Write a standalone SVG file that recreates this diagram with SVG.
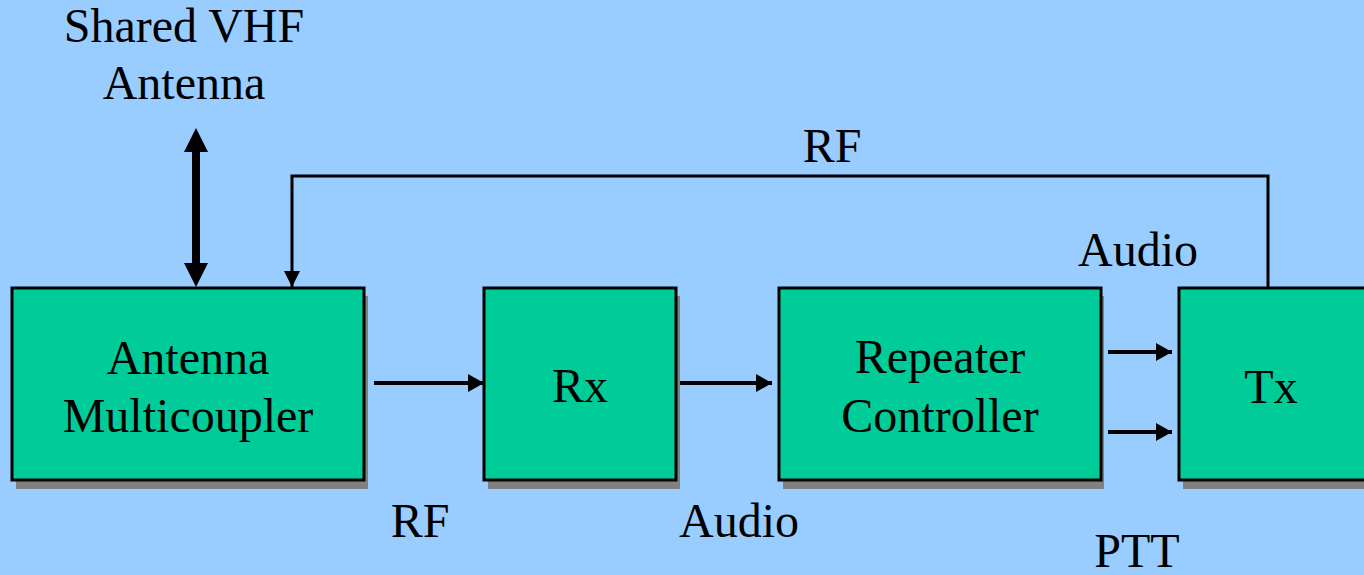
<svg xmlns="http://www.w3.org/2000/svg" width="1364" height="575" viewBox="0 0 1364 575">
<style>
text{font-family:"Liberation Serif","Times New Roman",serif;font-size:48px;fill:#000;text-anchor:middle}
.box{fill:#00CC99;stroke:#000;stroke-width:3}
.shadow{fill:#808080}
.thin{fill:none;stroke:#000;stroke-width:3}
.med{fill:none;stroke:#000;stroke-width:4}
.head{fill:#000}
</style>
<defs>
<marker id="ah" markerUnits="userSpaceOnUse" markerWidth="16" markerHeight="18" refX="16" refY="9" orient="auto"><path d="M0,0 L16,9 L0,18 Z" fill="#000"/></marker>
<marker id="ahs" markerUnits="userSpaceOnUse" markerWidth="16" markerHeight="16" refX="16" refY="8" orient="auto"><path d="M0,0 L16,8 L0,16 Z" fill="#000"/></marker>
</defs>
<rect width="1364" height="575" fill="#99CCFF"/>
<text x="184" y="42">Shared VHF</text>
<text x="184" y="99">Antenna</text>
<g id="connectors">
<rect class="head" x="192" y="148" width="8" height="120"/>
<polygon class="head" points="196,128 208,152 184,152"/>
<polygon class="head" points="196,287 208,263 184,263"/>
<polyline class="thin" points="1268,288 1268,176 292,176 292,287" marker-end="url(#ahs)"/>
<line class="med" x1="374" y1="383" x2="484" y2="383" marker-end="url(#ah)"/>
<line class="med" x1="677" y1="383" x2="772" y2="383" marker-end="url(#ah)"/>
<line class="med" x1="1108" y1="352" x2="1172" y2="352" marker-end="url(#ah)"/>
<line class="med" x1="1108" y1="432" x2="1172" y2="432" marker-end="url(#ah)"/>
</g>
<text x="832" y="162">RF</text>
<text x="1138" y="266">Audio</text>
<text x="420" y="537">RF</text>
<text x="739" y="537">Audio</text>
<text x="1137" y="567">PTT</text>
<g id="multicoupler">
<rect class="shadow" x="16" y="296" width="352" height="193"/>
<rect class="box" x="12" y="288" width="352" height="192"/>
<text x="188" y="374">Antenna</text>
<text x="188" y="432">Multicoupler</text>
</g>
<g id="rx">
<rect class="shadow" x="488" y="296" width="192" height="193"/>
<rect class="box" x="484" y="288" width="192" height="192"/>
<text x="580" y="402">Rx</text>
</g>
<g id="controller">
<rect class="shadow" x="783" y="296" width="321" height="193"/>
<rect class="box" x="779" y="288" width="322" height="192"/>
<text x="940" y="373">Repeater</text>
<text x="940" y="432">Controller</text>
</g>
<g id="tx">
<rect class="shadow" x="1183" y="296" width="200" height="193"/>
<rect class="box" x="1179" y="288" width="200" height="192"/>
<text x="1271" y="403">Tx</text>
</g>
</svg>
